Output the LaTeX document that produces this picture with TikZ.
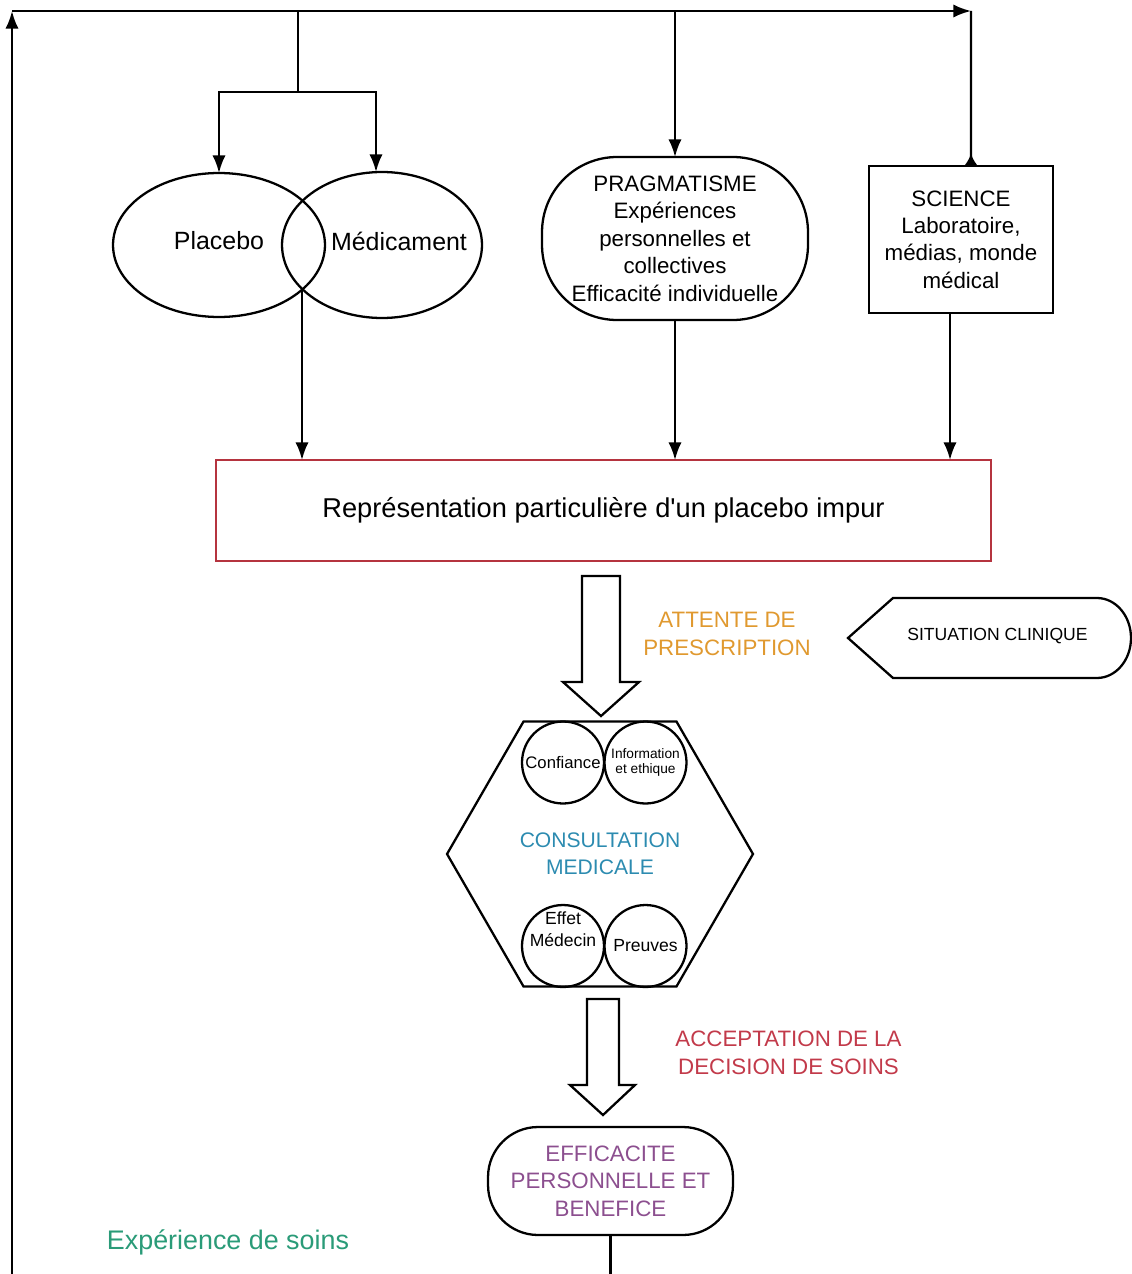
\documentclass[tikz,border=0pt]{standalone}
\usepackage{fontspec}
\setmainfont{Liberation Sans}
\newfontfamily\rawfont{Liberation Sans}[Ligatures=TeXOff]
\usetikzlibrary{arrows.meta,shapes.geometric,calc}
\definecolor{orangeT}{HTML}{E0992F}
\definecolor{blueT}{HTML}{2C8BB0}
\definecolor{redT}{HTML}{C23A4A}
\definecolor{purpleT}{HTML}{8C4F8F}
\definecolor{greenT}{HTML}{2A9B78}
\definecolor{redBorder}{HTML}{B5343F}
\newcommand\fmid{\fontsize{12.7}{15.6}\selectfont}
\begin{document}
\begin{tikzpicture}[x=0.02cm,y=-0.02cm, line width=1.3pt,
  conn/.style={-{Latex[length=10pt,width=7.5pt]}},
  shapebox/.style={draw, inner sep=0pt, outer sep=0pt},
  txt/.style={inner sep=0pt, align=center}]
\useasboundingbox (0,0) rectangle (1132,1274);

% top row shapes
\node[shapebox, ellipse, minimum width=4.24cm, minimum height=2.88cm] (placebo) at (219,245) {};
\node[shapebox, ellipse, minimum width=4.0cm, minimum height=2.92cm] (medic) at (382,245) {};
\node[txt, font=\fontsize{14.2}{17}\selectfont] (placebotxt) at (219,241) {Placebo};
\node[txt, font=\fontsize{14.2}{17}\selectfont] (medictxt) at (399,241) {Médicament};

\node[shapebox, rounded corners=1.5cm, minimum width=5.32cm, minimum height=3.26cm, align=center, font=\fmid] (prag) at (675,238.5)
  {PRAGMATISME\\Expériences\\personnelles et\\collectives\\Efficacité individuelle};
\node[shapebox, rectangle, minimum width=3.68cm, minimum height=2.94cm, align=center, font=\fmid] (sci) at (961,239.5)
  {SCIENCE\\Laboratoire,\\médias, monde\\médical};

\node[shapebox, draw=redBorder, line width=1pt, minimum width=15.5cm, minimum height=2.02cm, font=\fontsize{15.5}{18}\selectfont] (rep) at (603.5,510.5)
  {Représentation particulière d{\rawfont'}un placebo impur};

% frame / feedback lines
\coordinate (bl) at (12,1274);
\coordinate (tl) at (12,11);
\coordinate (tr) at (971,11);
\coordinate (fork) at (298,11);
\coordinate (forkd) at (298,92);
\coordinate (inter) at (302,291);

\draw[conn] (bl) -- (tl);
\draw[conn] (tl) -- (tr);
\draw[-{Latex[reversed,length=7pt,width=8pt]}] (tr) -- ([xshift=0.2cm]sci.north);
\draw (fork) -- (forkd);
\draw[conn] (forkd) -| (placebo.north);
\draw[conn] (forkd) -| ([xshift=-0.12cm]medic.north);
\draw[conn] (prag.north |- tl) -- (prag.north);

\draw[conn] (inter) -- (inter |- rep.north);
\draw[conn] (prag.south) -- (prag.south |- rep.north);
\draw[conn] ([xshift=-0.22cm]sci.south) -- ([xshift=-0.22cm]sci.south |- rep.north);

% hollow arrow 1
\draw (582,576) -- (620,576) -- (620,682) -- (639,682) -- (601,716) -- (563,682) -- (582,682) -- cycle;
\node[txt, text=orangeT, font=\fmid] (attente) at (727,634) {ATTENTE DE\\PRESCRIPTION};

% situation clinique
\draw (848,638) -- (893,598) -- (1097,598) arc[start angle=90, end angle=-90, x radius=0.68cm, y radius=0.8cm] -- (893,678) -- cycle;
\node[txt, font=\fontsize{10}{12}\selectfont] (sit) at (997.5,636) {SITUATION CLINIQUE};

% consultation hexagon
\node[shapebox, regular polygon, regular polygon sides=6, minimum size=6.12cm] (consult) at (600,854) {};
\node[txt, text=blueT, font=\fontsize{12}{15.3}\selectfont] (consulttxt) at (600,854) {CONSULTATION\\MEDICALE};

\node[shapebox, circle, minimum size=1.64cm, font=\fontsize{9.5}{11}\selectfont] (confiance) at (563,762.5) {Confiance};
\node[shapebox, circle, minimum size=1.64cm, align=center, font=\fontsize{7.8}{9}\selectfont] (info) at (645.5,762.5) {Information\\et ethique};
\node[shapebox, circle, minimum size=1.64cm] (effet) at (563,946) {};
\node[txt, font=\fontsize{10}{12.5}\selectfont] (effettxt) at (563,929) {Effet\\Médecin};
\node[shapebox, circle, minimum size=1.64cm, font=\fontsize{10}{12}\selectfont] (preuves) at (645.5,946) {Preuves};

% hollow arrow 2
\draw (587,999) -- (619,999) -- (619,1085) -- (635,1085) -- (603,1115) -- (570,1085) -- (587,1085) -- cycle;
\node[txt, text=redT, font=\fmid] (accept) at (788.5,1053) {ACCEPTATION DE LA\\DECISION DE SOINS};

% efficacite
\node[shapebox, rounded corners=1cm, minimum width=4.9cm, minimum height=2.16cm, align=center, font=\fmid, text=purpleT] (eff) at (610.5,1181)
  {EFFICACITE\\PERSONNELLE ET\\BENEFICE};
\draw (eff.south) -- (eff.south |- bl);

\node[txt, text=greenT, font=\fontsize{15.3}{18}\selectfont] (exp) at (228,1242) {Expérience de soins};
\end{tikzpicture}
\end{document}
